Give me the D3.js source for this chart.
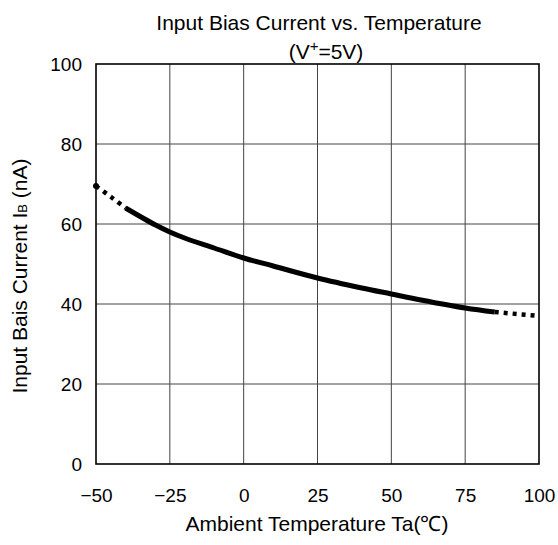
<!DOCTYPE html>
<html>
<head>
<meta charset="utf-8">
<script src="https://cdn.jsdelivr.net/npm/d3@7"></script>
<style>
  body { margin: 0; background: #fff; }
  text { font-family: "Liberation Sans", Arial, sans-serif; fill: #000; }
</style>
</head>
<body>
<div id="chart"></div>
<script>
// Data
var temps    = [-50, -45, -40, -30, -25, -20, -10, 0, 10, 25, 40, 50, 60, 75, 85, 100];
var biasNa   = [69.5, 66.8, 64, 59.8, 58, 56.5, 54, 51.5, 49.5, 46.5, 44, 42.5, 41, 39, 38, 37];
var xTicks   = [-50, -25, 0, 25, 50, 75, 100];
var yTicks   = [0, 20, 40, 60, 80, 100];
var solidFrom = -40, solidTo = 85;

var width = 558, height = 545;
var margin = {left: 96, right: 19, top: 64, bottom: 81};

var svg = d3.select('#chart').append('svg')
  .attr('width', width)
  .attr('height', height);

var x = d3.scaleLinear().domain([-50, 100]).range([margin.left, width - margin.right]);
var y = d3.scaleLinear().domain([0, 100]).range([height - margin.bottom, margin.top]);

// grid
svg.append('g').selectAll('line.v')
  .data(xTicks.slice(1, -1))
  .enter().append('line')
  .attr('x1', function(d) { return x(d); })
  .attr('x2', function(d) { return x(d); })
  .attr('y1', y(0)).attr('y2', y(100))
  .attr('stroke', '#444').attr('stroke-width', 1);

svg.append('g').selectAll('line.h')
  .data(yTicks.slice(1, -1))
  .enter().append('line')
  .attr('y1', function(d) { return y(d); })
  .attr('y2', function(d) { return y(d); })
  .attr('x1', x(-50)).attr('x2', x(100))
  .attr('stroke', '#444').attr('stroke-width', 1);

// frame
svg.append('rect')
  .attr('x', x(-50)).attr('y', y(100))
  .attr('width', x(100) - x(-50)).attr('height', y(0) - y(100))
  .attr('fill', 'none').attr('stroke', '#000').attr('stroke-width', 1.6);

// axes (labels only)
var xAxis = d3.axisBottom(x).tickValues(xTicks).tickSize(0).tickPadding(25)
  .tickFormat(function(d) { return d < 0 ? '\u2212' + Math.abs(d) : d; });
var gx = svg.append('g').attr('transform', 'translate(0,' + y(0) + ')').call(xAxis);
gx.select('.domain').remove();
gx.selectAll('text').style('font-size', '19px').attr('font-family', null);

var yAxis = d3.axisLeft(y).tickValues(yTicks).tickSize(0).tickPadding(14);
var gy = svg.append('g').attr('transform', 'translate(' + x(-50) + ',0)').call(yAxis);
gy.select('.domain').remove();
gy.selectAll('text').style('font-size', '19px').attr('font-family', null);

// curve
var pts = temps.map(function(t, i) { return [t, biasNa[i]]; });
var line = d3.line()
  .x(function(d) { return x(d[0]); })
  .y(function(d) { return y(d[1]); })
  .curve(d3.curveCatmullRom);

var solid = pts.filter(function(d) { return d[0] >= solidFrom && d[0] <= solidTo; });
var left = pts.filter(function(d) { return d[0] <= solidFrom; });
var right = pts.filter(function(d) { return d[0] >= solidTo; });

svg.append('path').datum(solid)
  .attr('d', line).attr('fill', 'none')
  .attr('stroke', '#000').attr('stroke-width', 5);

[left, right].forEach(function(seg) {
  svg.append('path').datum(seg)
    .attr('d', line).attr('fill', 'none')
    .attr('stroke', '#000').attr('stroke-width', 4.5)
    .attr('stroke-dasharray', '4,5');
});

svg.append('circle')
  .attr('cx', x(temps[0])).attr('cy', y(biasNa[0])).attr('r', 3);

// titles
svg.append('text')
  .attr('x', 319).attr('y', 30)
  .attr('text-anchor', 'middle').style('font-size', '21px')
  .text('Input Bias Current vs. Temperature');

var sub = svg.append('text')
  .attr('x', 326).attr('y', 59)
  .attr('text-anchor', 'middle').style('font-size', '21px');
sub.append('tspan').text('(V');
sub.append('tspan').attr('dy', -8).style('font-size', '15px').text('+');
sub.append('tspan').attr('dy', 8).text('=5V)');

svg.append('text')
  .attr('x', 317).attr('y', 531)
  .attr('text-anchor', 'middle').style('font-size', '21px')
  .text('Ambient Temperature Ta(\u2103)');

var yl = svg.append('text')
  .attr('transform', 'translate(27,276) rotate(-90)')
  .attr('text-anchor', 'middle').style('font-size', '21px');
yl.append('tspan').text('Input Bais Current I');
yl.append('tspan').style('font-size', '13px').text('B');
yl.append('tspan').text(' (nA)');
</script>
</body>
</html>
